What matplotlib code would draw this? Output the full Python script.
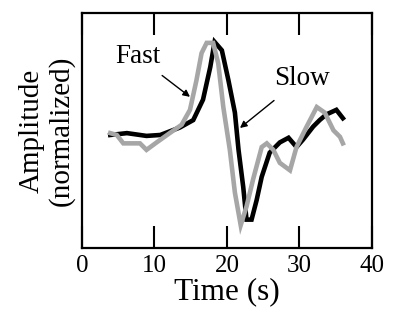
import matplotlib.pyplot as plt

plt.rcParams['font.family'] = ['Liberation Serif', 'DejaVu Serif']

# slow response (black)
slow_t = [3.9, 6.2, 8.9, 10.8, 13.5, 15.35, 16.7, 17.7, 18.3, 19.3, 20.2, 21.1, 21.6,
          22.25, 22.7, 23.4, 24.1, 24.8, 25.9, 27.3, 28.5, 29.6, 30.5, 31.9, 32.8,
          33.7, 35.1, 36.0]
slow_amp = [0.0, 0.02, -0.01, 0.0, 0.08, 0.16, 0.38, 0.73, 1.0, 0.91, 0.59, 0.24, -0.16,
            -0.56, -0.91, -0.91, -0.70, -0.45, -0.19, -0.08, -0.03, -0.13, -0.05, 0.09,
            0.16, 0.22, 0.27, 0.18]

# fast response (gray)
fast_t = [3.9, 4.8, 5.7, 8.0, 8.9, 10.3, 12.1, 13.75, 14.9, 15.8, 16.5, 17.2, 18.1,
          18.8, 19.5, 20.4, 21.1, 21.9, 22.7, 23.6, 24.8, 25.5, 26.4, 27.3, 28.7,
          29.6, 31.0, 32.4, 33.5, 34.7, 35.6, 36.0]
fast_amp = [0.02, 0.0, -0.09, -0.09, -0.16, -0.08, 0.02, 0.11, 0.27, 0.59, 0.88, 0.99,
            0.99, 0.77, 0.30, -0.16, -0.62, -0.97, -0.77, -0.48, -0.13, -0.09, -0.16,
            -0.30, -0.38, -0.13, 0.09, 0.30, 0.24, 0.05, -0.02, -0.09]

xticks = [0, 10, 20, 30, 40]

fig = plt.figure(figsize=(3.99, 3.2), dpi=100)
ax = fig.add_axes([0.2055, 0.225, 0.7265, 0.734])

ax.plot(slow_t, slow_amp, color='black', lw=3.3, solid_joinstyle='miter')
ax.plot(fast_t, fast_amp, color='#a6a6a6', lw=3.3, solid_joinstyle='miter')

ax.annotate('Fast', xy=(14.9, 0.41), xytext=(7.7, 0.84), fontsize=19.5,
            ha='center', va='center',
            arrowprops=dict(arrowstyle='-|>', color='black', lw=1.0,
                            shrinkA=4, shrinkB=0, mutation_scale=10))
ax.annotate('Slow', xy=(21.8, 0.075), xytext=(30.3, 0.61), fontsize=19.5,
            ha='center', va='center',
            arrowprops=dict(arrowstyle='-|>', color='black', lw=1.0,
                            shrinkA=8, shrinkB=0, mutation_scale=10))

ax.set_xlabel('Time (s)', fontsize=22.5, labelpad=0)
ax.set_ylabel('Amplitude\n(normalized)', fontsize=21, linespacing=1.15, labelpad=5)

for s in ax.spines.values():
    s.set_linewidth(1.6)

ax.set_xlim(0, 40)
ax.set_ylim(-1.215, 1.31)
ax.set_xticks(xticks)
ax.set_yticks([])
ax.tick_params(axis='x', which='major', direction='in', length=16, width=1.5,
               top=True, bottom=True, labelsize=18, pad=5, color='black')

fig.savefig('out.png', dpi=100)
